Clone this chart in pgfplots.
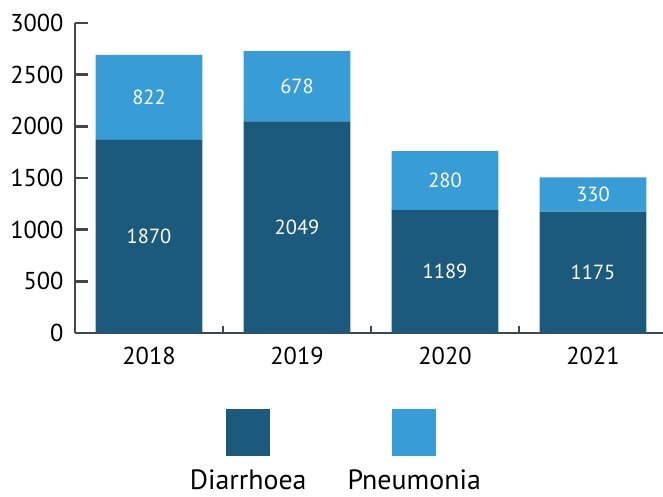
\documentclass[border=0pt]{standalone}
\usepackage{fontspec}
\setmainfont{PT Sans}
\usepackage{pgfplots}
\usepackage{pgfplotstable}
\pgfplotsset{compat=1.18}
\definecolor{darkblue}{HTML}{1C5A7D}
\definecolor{lightblue}{HTML}{389CD6}
\definecolor{axisgray}{HTML}{41474E}
% bar heights as drawn in the reference
\pgfplotstableread{
x d p
0 1870 822
1 2049 678
2 1189 572
3 1175 330
}\datatable
\pgfplotsset{
  commonaxis/.style={
    at={(0,0)}, anchor=south west, scale only axis,
    width=588bp, height=310bp,
    xmin=-0.5, xmax=3.473, ymin=0, ymax=3000,
    clip=false,
  }
}
\begin{document}
\begin{tikzpicture}[x=1bp,y=1bp]
\useasboundingbox (-75,-164) rectangle (588,333);
\begin{axis}[
  commonaxis,
  ybar stacked, bar width=0.72,
  axis x line*=bottom, axis y line*=left,
  axis line style={axisgray, line width=2.6bp},
  xtick={0,1,2,3}, xticklabels={2018,2019,2020,2021},
  major x tick style={draw=none},
  minor xtick={0.5,1.5,2.5},
  minor tick length=7bp,
  minor x tick style={axisgray, line width=2.4bp},
  ytick={0,500,1000,1500,2000,2500,3000},
  major tick length=13bp,
  major y tick style={axisgray, line width=2.4bp},
  tick align=inside,
  /pgf/number format/1000 sep={},
  /pgf/number format/assume math mode=true,
  yticklabel style={font=\fontsize{24.5}{24}\selectfont, xshift=-8bp},
  xticklabel style={font=\fontsize{24.5}{24}\selectfont, yshift=-11bp},
  legend columns=2,
  legend style={draw=none, fill=none, at={(0.1616,-0.5323)}, anchor=south west,
    nodes={inner sep=0pt, text width=150bp, align=center, text height=18bp, text depth=6bp, font=\fontsize{28}{28}\selectfont},
    /tikz/every even column/.append style={column sep=16bp}},
  legend image code/.code={\path (0,0); \fill[#1,overlay] (53bp,28bp) rectangle (97bp,75bp);},
]
\addplot[fill=darkblue, draw=none] table[x=x, y=d] {\datatable};
\addlegendentry{Diarrhoea}
\addplot[fill=lightblue, draw=none] table[x=x, y=p] {\datatable};
\addlegendentry{Pneumonia}
\end{axis}
\begin{axis}[
  commonaxis, hide axis,
  every node near coord/.append style={font=\fontsize{20.5}{20}\selectfont, text=white, anchor=center},
]
% value labels at the middle of each segment
\addplot[draw=none, mark=none, nodes near coords, point meta=explicit symbolic]
  coordinates {(0,935)[1870] (1,1024.5)[2049] (2,594.5)[1189] (3,587.5)[1175]};
\addplot[draw=none, mark=none, nodes near coords, point meta=explicit symbolic]
  coordinates {(0,2281)[822] (1,2388)[678] (2,1475)[280] (3,1340)[330]};
\end{axis}
\end{tikzpicture}
\end{document}
